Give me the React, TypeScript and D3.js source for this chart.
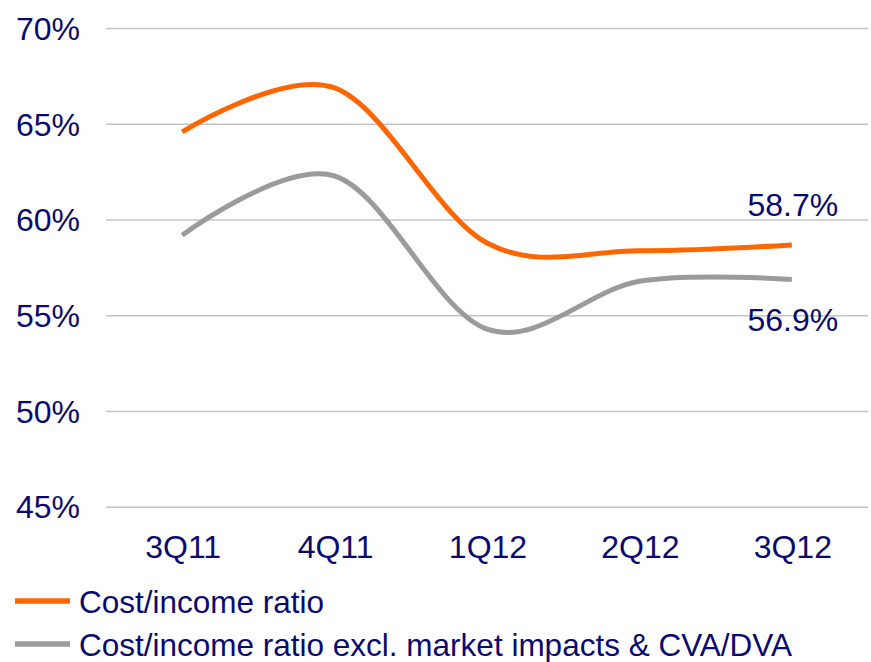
import React, { useEffect, useRef } from 'react';
import * as d3 from 'd3';

const quarters = ['3Q11', '4Q11', '1Q12', '2Q12', '3Q12'];
const costIncome = [64.6, 66.9, 58.8, 58.4, 58.7];
const costIncomeExcl = [59.2, 62.3, 54.3, 56.8, 56.9];
const yTicks = [45, 50, 55, 60, 65, 70];
const seriesNames = ['Cost/income ratio', 'Cost/income ratio excl. market impacts & CVA/DVA'];

const W = 871;
const H = 662;
const NAVY = '#0A0A6E';
const FONT = 'Liberation Sans, Arial, sans-serif';

export default function App() {
  const svgRef = useRef<SVGSVGElement>(null);

  useEffect(() => {
    const svg = d3.select(svgRef.current);
    svg.selectAll('*').remove();

    const x = d3.scaleBand<string>().domain(quarters).range([106, 868]);
    const y = d3.scaleLinear().domain([45, 70]).range([507.2, 28.6]);
    const cx = (q: string) => (x(q) as number) + x.bandwidth() / 2;

    // gridlines
    svg.append('g')
      .selectAll('line')
      .data(yTicks)
      .join('line')
      .attr('x1', 106)
      .attr('x2', 868)
      .attr('y1', d => y(d))
      .attr('y2', d => y(d))
      .attr('stroke', '#C4C4C4')
      .attr('stroke-width', 1.5);

    // y labels
    svg.append('g')
      .selectAll('text')
      .data(yTicks)
      .join('text')
      .attr('x', 80)
      .attr('y', d => y(d))
      .attr('dy', '0.35em')
      .attr('text-anchor', 'end')
      .attr('font-family', FONT)
      .attr('font-size', 32)
      .attr('fill', NAVY)
      .text(d => d + '%');

    // x labels
    svg.append('g')
      .selectAll('text')
      .data(quarters)
      .join('text')
      .attr('x', d => cx(d) + 1)
      .attr('y', 558)
      .attr('text-anchor', 'middle')
      .attr('font-family', FONT)
      .attr('font-size', 32)
      .attr('fill', NAVY)
      .text(d => d);

    const line = d3.line<number>()
      .x((_, i) => cx(quarters[i]))
      .y(d => y(d))
      .curve(d3.curveCatmullRom.alpha(0));

    const series = [
      { values: costIncomeExcl, color: '#9B9B9B' },
      { values: costIncome, color: '#FF6600' },
    ];

    svg.append('g')
      .selectAll('path')
      .data(series)
      .join('path')
      .attr('d', d => line(d.values))
      .attr('fill', 'none')
      .attr('stroke', d => d.color)
      .attr('stroke-width', 5);

    // end labels
    const lastQ = quarters[quarters.length - 1];
    svg.append('text')
      .attr('x', cx(lastQ) + 1)
      .attr('y', y(costIncome[costIncome.length - 1]) - 29)
      .attr('text-anchor', 'middle')
      .attr('font-family', FONT)
      .attr('font-size', 32)
      .attr('fill', NAVY)
      .text(costIncome[costIncome.length - 1].toFixed(1) + '%');
    svg.append('text')
      .attr('x', cx(lastQ) + 1)
      .attr('y', y(costIncomeExcl[costIncomeExcl.length - 1]) + 52)
      .attr('text-anchor', 'middle')
      .attr('font-family', FONT)
      .attr('font-size', 32)
      .attr('fill', NAVY)
      .text(costIncomeExcl[costIncomeExcl.length - 1].toFixed(1) + '%');

    // legend
    const legendColors = ['#FF6600', '#9B9B9B'];
    const legend = svg.append('g')
      .selectAll('g')
      .data(seriesNames)
      .join('g')
      .attr('transform', (_, i) => `translate(0, ${601 + i * 43})`);
    legend.append('line')
      .attr('x1', 15)
      .attr('x2', 70)
      .attr('stroke', (_, i) => legendColors[i])
      .attr('stroke-width', 5.5);
    legend.append('text')
      .attr('x', 79)
      .attr('y', 12)
      .attr('font-family', FONT)
      .attr('font-size', 31.5)
      .attr('fill', NAVY)
      .text(d => d);
  }, []);

  return (
    <svg
      ref={svgRef}
      width={W}
      height={H}
      style={{ position: 'absolute', left: 0, top: 0, background: '#fff' }}
    />
  );
}
